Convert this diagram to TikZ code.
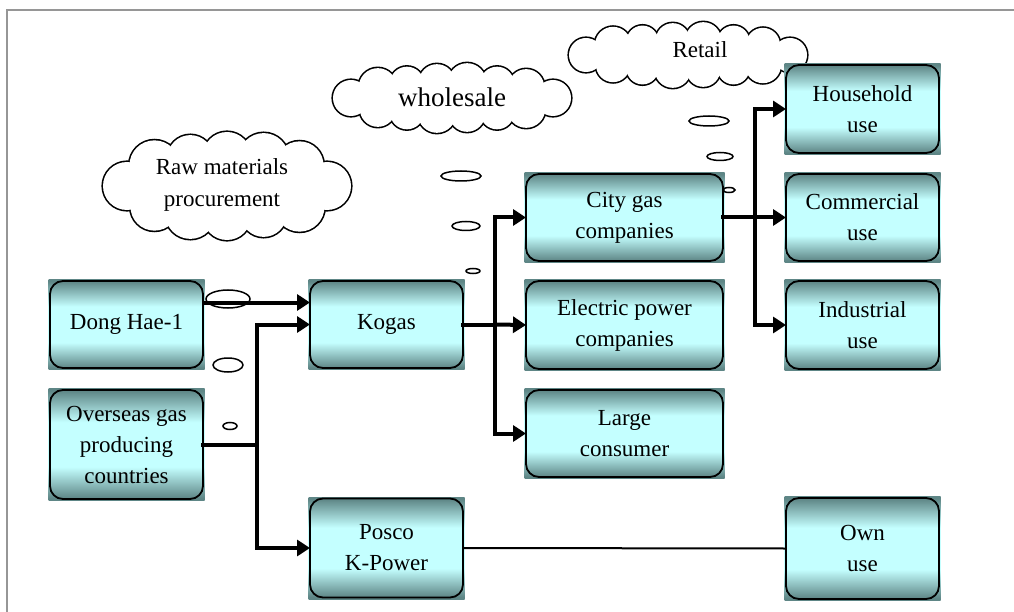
\documentclass[tikz,border=0pt]{standalone}
\usepackage{fontspec}
\setmainfont{Liberation Serif}
\usetikzlibrary{arrows.meta,calc}
\definecolor{dk}{RGB}{94,134,134}
\definecolor{lt}{RGB}{196,255,255}
\definecolor{framegray}{RGB}{150,150,150}
\pgfdeclareverticalshading{boxshade}{100bp}{color(0bp)=(dk); color(26bp)=(dk); color(40bp)=(lt); color(60bp)=(lt); color(74bp)=(dk); color(100bp)=(dk)}
\pgfdeclarelayer{paper}
\pgfdeclarelayer{cloudlayer}
\pgfdeclarelayer{boxfill}
\pgfsetlayers{paper,cloudlayer,boxfill,main}
% cloud made of overlapping puffs: centre x, centre y, rx, ry, list angle/radius
\newcommand{\bumpcloud}[5]{%
  \foreach \a/\r in {#5} \draw[line width=3.2pt] ({#1+#3*cos(\a)},{#2+#4*sin(\a)}) circle[radius=\r];
  \foreach \a/\r in {#5} \fill[white] ({#1+#3*cos(\a)},{#2+#4*sin(\a)}) circle[radius=\r];
  \fill[white] (#1,#2) ellipse[x radius=#3, y radius=#4];}
\begin{document}
\begin{tikzpicture}[x=1pt,y=-1pt,
  box/.style={draw, line width=1.8pt, rounded corners=13pt, align=center,
    font=\fontsize{23}{31}\selectfont, inner sep=0pt, outer sep=0pt},
  cloudtext/.style={align=center, font=\fontsize{23}{32}\selectfont, inner sep=0pt},
  bubble/.style={draw, line width=1.5pt},
  bus/.style={line width=4pt, line cap=rect},
  arr/.style={line width=4pt, -{Triangle[length=13pt,width=16pt]}},
  thinline/.style={line width=2pt}]
\useasboundingbox (0,0) rectangle (1014,612);
\begin{pgfonlayer}{paper}
\fill[white] (0,0) rectangle (1014,612);
\draw[framegray, line width=2pt] (7,612) -- (7,10) -- (1014,10);
\end{pgfonlayer}

% clouds
\begin{pgfonlayer}{cloudlayer}
\bumpcloud{227}{186}{100}{30}{0/24, 43.5/25, 68.5/23, 90/24, 111.5/25, 136.5/24, 180/24, 223.5/25, 248.5/23, 270/24, 291.5/25, 316.5/24}
\bumpcloud{452}{98}{101}{16}{0/18, 42.7/19, 63.5/17, 81.4/18, 98.6/19, 116.5/17, 137.3/18, 180/18, 222.7/19, 243.5/17, 261.4/18, 278.6/19, 296.5/17, 317.3/18}
\bumpcloud{688}{55}{102}{15}{0/17, 42.7/18, 63.5/16, 81.4/17, 98.6/18, 116.5/16, 137.3/17, 180/17, 222.7/18, 243.5/16, 261.4/17, 278.6/18, 296.5/16, 317.3/17}
\end{pgfonlayer}
\node[cloudtext] (c1t) at (222,185) {Raw materials\\procurement};
\node[cloudtext, font=\fontsize{27}{32}\selectfont] (c2t) at (452,97) {wholesale};
\node[cloudtext] (c3t) at (700,50) {Retail};

% boxes
\node[box, minimum width=153pt, minimum height=87pt] (dong) at (126.5,324.5) {Dong Hae-1};
\node[box, minimum width=153pt, minimum height=109pt] (overseas) at (126.5,444.5) {Overseas gas\\producing\\countries};
\node[box, minimum width=153pt, minimum height=87pt] (kogas) at (386.5,324.5) {Kogas};
\node[box, minimum width=153pt, minimum height=99pt] (posco) at (386.5,548) {Posco\\K-Power};
\node[box, minimum width=197pt, minimum height=87pt] (city) at (624.5,217.5) {City gas\\companies};
\node[box, minimum width=197pt, minimum height=88pt] (elec) at (624.5,325) {Electric power\\companies};
\node[box, minimum width=197pt, minimum height=87pt] (large) at (624.5,433.5) {Large\\consumer};
\node[box, minimum width=153pt, minimum height=88pt] (house) at (862.5,109) {Household\\use};
\node[box, minimum width=153pt, minimum height=87pt] (comm) at (862.5,217.5) {Commercial\\use};
\node[box, minimum width=153pt, minimum height=88pt] (ind) at (862.5,325) {Industrial\\use};
\node[box, minimum width=153pt, minimum height=101pt] (own) at (862.5,548.5) {Own\\use};

\begin{pgfonlayer}{boxfill}
\foreach \n in {dong,overseas,kogas,posco,city,elec,large,house,comm,ind,own}
  \shade[shading=boxshade] ([xshift=-1.5pt,yshift=-1.5pt]\n.south west) rectangle ([xshift=1.5pt,yshift=1.5pt]\n.north east);
\end{pgfonlayer}

% thought bubbles
\draw[bubble] (228,299) ellipse [x radius=22, y radius=9];
\draw[bubble] (228,365) ellipse [x radius=15, y radius=7];
\draw[bubble] (230,426) ellipse [x radius=7, y radius=3.5];
\draw[bubble] (461,176) ellipse [x radius=20, y radius=5];
\draw[bubble] (466,226) ellipse [x radius=14, y radius=4.5];
\draw[bubble] (473,271) ellipse [x radius=7, y radius=2.5];
\draw[bubble] (709,121) ellipse [x radius=20, y radius=5];
\draw[bubble] (720,156.5) ellipse [x radius=13, y radius=4];
\draw[bubble] (729,190) ellipse [x radius=6, y radius=2.5];

% connectors
\coordinate (j1) at (257,444.5);
\coordinate (j2) at (495,324.5);
\coordinate (j3) at (755,217.5);
\draw[arr] ([yshift=22pt]dong.east) -- ([yshift=22pt]kogas.west);
\draw[bus] (overseas.east) -- (j1);
\draw[arr] (j1) |- (kogas.west);
\draw[arr] (j1) |- (posco.west);
\draw[bus] (kogas.east) -- (j2);
\draw[arr] (j2) |- (city.west);
\draw[arr] (j2) -- (elec.west);
\draw[arr] (j2) |- (large.west);
\draw[bus] (city.east) -- (j3);
\draw[arr] (j3) |- (house.west);
\draw[arr] (j3) -- (comm.west);
\draw[arr] (j3) |- (ind.west);
\draw[thinline] (posco.east) -- (own.west);
\end{tikzpicture}
\end{document}
